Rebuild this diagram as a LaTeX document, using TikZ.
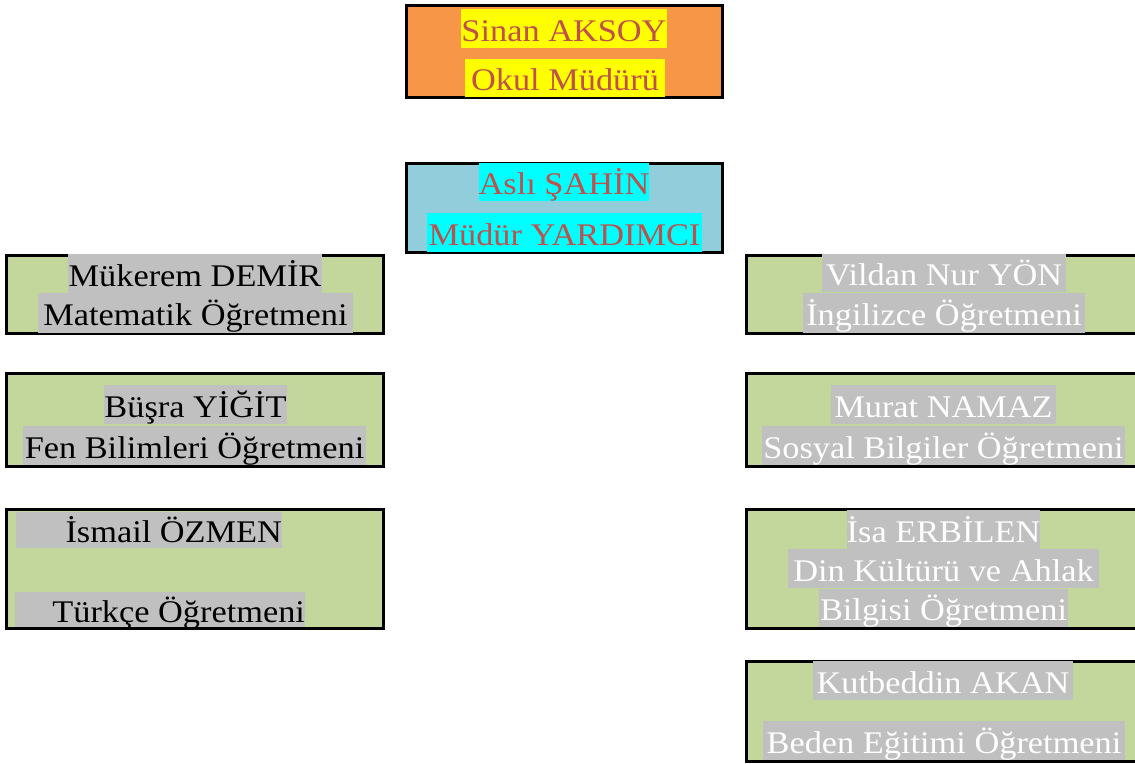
\documentclass[tikz,border=0pt]{standalone}
\usepackage{fontspec}
\setmainfont{Liberation Serif}[FakeStretch=1.09]
\definecolor{orangef}{HTML}{F79646}
\definecolor{bluef}{HTML}{92CDDC}
\definecolor{greenf}{HTML}{C3D69B}
\definecolor{grayhl}{HTML}{C0C0C0}
\definecolor{yellowhl}{HTML}{FFFF00}
\definecolor{cyanhl}{HTML}{00FFFF}
\definecolor{redtxt}{HTML}{C0504D}
\tikzset{
  box/.style={draw=black, line width=3pt},
  hl/.style={inner sep=0pt, text height=25pt, text depth=0pt, font=\fontsize{31.5}{37}\selectfont},
  grayline/.style={hl, fill=grayhl},
  blackt/.style={grayline, text=black},
  whitet/.style={grayline, text=white},
  topline/.style={hl, fill=yellowhl, text=redtxt},
  vpline/.style={hl, fill=cyanhl, text=redtxt},
}
\begin{document}
\begin{tikzpicture}[x=1pt,y=-1pt]
\useasboundingbox (0,0) rectangle (1135,763);
% boxes
\draw[box, fill=orangef] (406,5) rectangle (722,97);
\draw[box, fill=bluef] (406,163) rectangle (722,252);
\draw[box, fill=greenf] (6.5,255.5) rectangle (383.5,333.5);
\draw[box, fill=greenf] (6.5,373) rectangle (383.5,466);
\draw[box, fill=greenf] (6.5,509) rectangle (383.5,628);
\draw[box, fill=greenf] (746,255.5) rectangle (1145,333.5);
\draw[box, fill=greenf] (746,373) rectangle (1145,466);
\draw[box, fill=greenf] (746,509) rectangle (1145,628);
\draw[box, fill=greenf] (746,661) rectangle (1145,761);
% top
\node[topline, minimum width=198pt, minimum height=39pt] (t1) at (564,28.5) {Sinan AKSOY};
\node[topline, minimum width=200pt, minimum height=38pt] (t2) at (565,78) {Okul Müdürü};
\node[vpline, minimum width=170pt, minimum height=38pt] (v1) at (564,182) {Aslı ŞAHİN};
\node[vpline, minimum width=275pt, minimum height=39pt] (v2) at (564.5,232.5) {Müdür YARDIMCI};
% left
\node[blackt, minimum width=254pt, minimum height=39pt] (l1a) at (195,273.5) {Mükerem DEMİR};
\node[blackt, minimum width=315pt, minimum height=40pt] (l1b) at (195.5,313) {Matematik Öğretmeni};
\node[blackt, minimum width=177pt, minimum height=39pt] (l2a) at (195.5,404.5) {Büşra YİĞİT};
\node[blackt, minimum width=343pt, minimum height=39pt] (l2b) at (194.5,445.5) {Fen Bilimleri Öğretmeni};
\node[blackt, minimum height=36pt] (l3a) at (149,530) {\makebox[266pt][r]{İsmail ÖZMEN}};
\node[blackt, minimum height=35pt] (l3b) at (160,609.5) {\makebox[290pt][r]{Türkçe Öğretmeni}};
% right
\node[whitet, minimum width=244pt, minimum height=38pt] (r1a) at (944,273) {Vildan Nur YÖN};
\node[whitet, minimum width=282pt, minimum height=40pt] (r1b) at (944,313) {İngilizce Öğretmeni};
\node[whitet, minimum width=225pt, minimum height=39pt] (r2a) at (943.5,404.5) {Murat NAMAZ};
\node[whitet, minimum width=363pt, minimum height=39pt] (r2b) at (943.5,445.5) {Sosyal Bilgiler Öğretmeni};
\node[whitet, minimum width=185pt, minimum height=39pt] (r3a) at (943.5,529.5) {İsa ERBİLEN};
\node[whitet, minimum width=311pt, minimum height=39pt] (r3b) at (943.5,568.5) {Din Kültürü ve Ahlak};
\node[whitet, minimum width=249pt, minimum height=38pt] (r3c) at (943.5,608) {Bilgisi Öğretmeni};
\node[whitet, minimum width=260pt, minimum height=39pt] (r4a) at (943,680.5) {Kutbeddin AKAN};
\node[whitet, minimum width=362pt, minimum height=39pt] (r4b) at (944,740.5) {Beden Eğitimi Öğretmeni};
\end{tikzpicture}
\end{document}
